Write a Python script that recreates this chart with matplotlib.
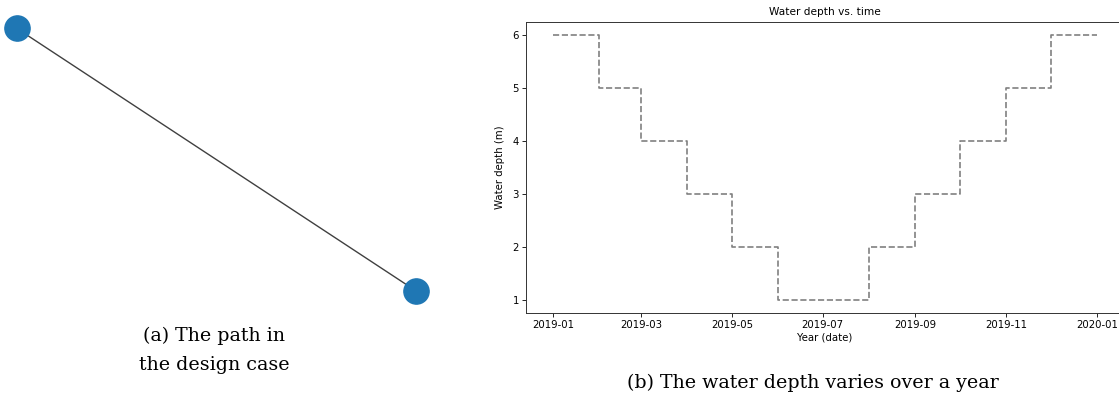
import matplotlib
matplotlib.use("Agg")
import matplotlib.pyplot as plt
import matplotlib.dates as mdates
import pandas as pd

# left panel: the path (two nodes, one edge)
node_x = [0.0, 1.0]
node_y = [1.0, 0.0]

# right panel: monthly water depth, step plot
month_starts = pd.to_datetime([
    "2019-01-01", "2019-02-01", "2019-03-01", "2019-04-01", "2019-05-01",
    "2019-06-01", "2019-07-01", "2019-08-01", "2019-09-01", "2019-10-01",
    "2019-11-01", "2019-12-01", "2020-01-01",
])
depth_m = [6, 5, 4, 3, 2, 1, 1, 2, 3, 4, 5, 6, 6]

caption_a = "(a) The path in\nthe design case"
caption_b = "(b) The water depth varies over a year"

W, H = 1119, 398
fig = plt.figure(figsize=(W / 100, H / 100), dpi=100)

# --- (a) graph ---
ax1 = fig.add_axes([16.7 / W, 1 - 290.7 / H, (415.7 - 16.7) / W, (290.7 - 28.3) / H])
ax1.plot(node_x, node_y, color="black", lw=1.0, alpha=0.75, zorder=1)
ax1.scatter(node_x, node_y, s=330, color="#1f77b4", zorder=2, clip_on=False)
ax1.set_xlim(0, 1)
ax1.set_ylim(0, 1)
ax1.axis("off")

# --- (b) water depth ---
small = 7.3
ax2 = fig.add_axes([526 / W, 1 - 313 / H, (1124 - 526) / W, (313 - 22) / H])
ax2.step(month_starts, depth_m, where="post", color="gray", ls="--", lw=1.2)
ax2.set_title("Water depth vs. time", fontsize=small + 0.3, pad=5)
ax2.set_xlabel("Year (date)", fontsize=small, labelpad=2)
ax2.set_ylabel("Water depth (m)", fontsize=small, labelpad=5)
ax2.xaxis.set_major_locator(mdates.MonthLocator(bymonth=[1, 3, 5, 7, 9, 11]))
ax2.xaxis.set_major_formatter(mdates.DateFormatter("%Y-%m"))
ax2.tick_params(labelsize=small, length=2.6, width=0.6, pad=2.5)
for sp in ax2.spines.values():
    sp.set_linewidth(0.7)
    sp.set_color("#333333")

# captions
fig.text(214 / W, 1 - 350 / H, caption_a, ha="center", va="center",
         family="DejaVu Serif", fontsize=13.7, linespacing=1.8)
fig.text(813 / W, 1 - 383 / H, caption_b, ha="center", va="center",
         family="DejaVu Serif", fontsize=13.7)

fig.savefig("out.png", dpi=100)
